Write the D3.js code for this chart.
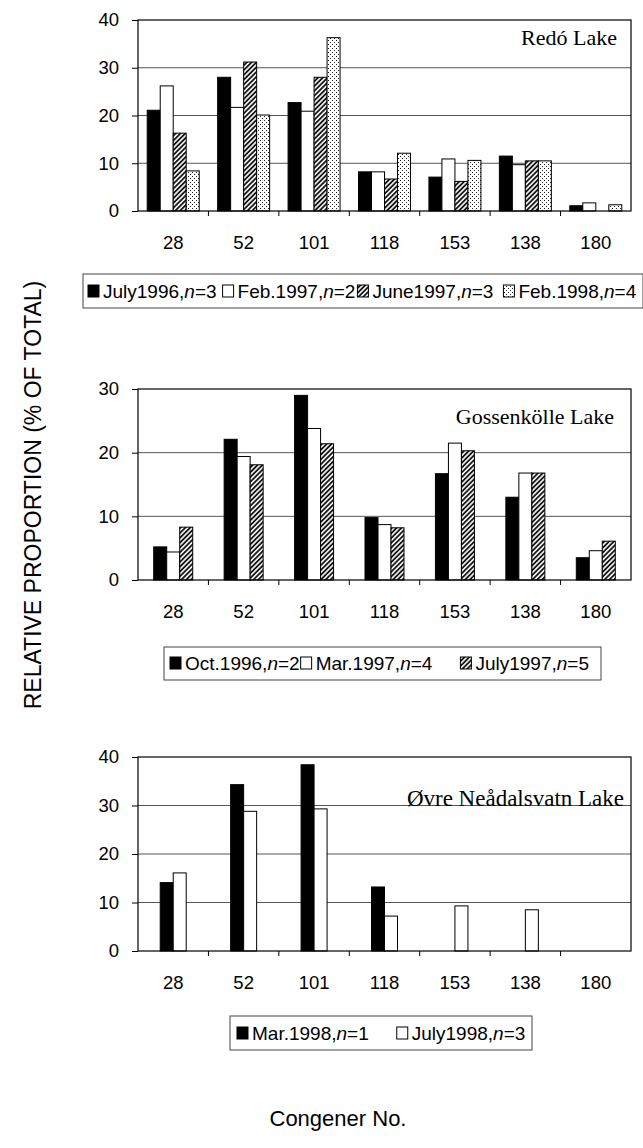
<!DOCTYPE html>
<html>
<head>
<meta charset="utf-8">
<script src="https://cdn.jsdelivr.net/npm/d3@7"></script>
<style>
  body { margin: 0; background: #fff; }
  svg { display: block; }
  .tick text { font-family: "Liberation Sans", Arial, sans-serif; font-size: 18.5px; fill: #000; }
</style>
</head>
<body>
<svg id="chart" width="643" height="1148"></svg>
<script>
// congener numbers, in the order they appear on the x axis
var categories = ['28', '52', '101', '118', '153', '138', '180'];

// Redó Lake
var redoLabels = ['July1996,n=3', 'Feb.1997,n=2', 'June1997,n=3', 'Feb.1998,n=4'];
var redoJuly1996 = [21.1, 28.0, 22.7, 8.2, 7.1, 11.5, 1.1];
var redoFeb1997  = [26.2, 21.7, 20.9, 8.2, 10.9, 9.7, 1.7];
var redoJune1997 = [16.3, 31.2, 28.0, 6.7, 6.2, 10.5, 0];
var redoFeb1998  = [8.4, 20.1, 36.3, 12.1, 10.6, 10.5, 1.3];

// Gossenkölle Lake
var gossLabels = ['Oct.1996,n=2', 'Mar.1997,n=4', 'July1997,n=5'];
var gossOct1996  = [5.2, 22.1, 29.0, 9.8, 16.7, 13.0, 3.5];
var gossMar1997  = [4.4, 19.4, 23.8, 8.7, 21.5, 16.8, 4.6];
var gossJuly1997 = [8.3, 18.1, 21.4, 8.2, 20.3, 16.8, 6.1];

// Øvre Neådalsvatn Lake
var ovreLabels = ['Mar.1998,n=1', 'July1998,n=3'];
var ovreMar1998  = [14.1, 34.3, 38.4, 13.2, 0, 0, 0];
var ovreJuly1998 = [16.1, 28.8, 29.3, 7.2, 9.3, 8.5, 0];

var yTicks40 = [0, 10, 20, 30, 40];
var yTicks30 = [0, 10, 20, 30];

var svg = d3.select('#chart');
var defs = svg.append('defs');

var hatch = defs.append('pattern').attr('id', 'hatch').attr('patternUnits', 'userSpaceOnUse')
  .attr('width', 3.4).attr('height', 3.4).attr('patternTransform', 'rotate(45)');
hatch.append('rect').attr('width', 3.4).attr('height', 3.4).attr('fill', '#fff');
hatch.append('line').attr('x1', 1).attr('y1', 0).attr('x2', 1).attr('y2', 3.4)
  .attr('stroke', '#000').attr('stroke-width', 1.7);

var dots = defs.append('pattern').attr('id', 'dots').attr('patternUnits', 'userSpaceOnUse')
  .attr('width', 4).attr('height', 4);
dots.append('rect').attr('width', 4).attr('height', 4).attr('fill', '#fff');
dots.append('rect').attr('x', 0).attr('y', 0).attr('width', 1).attr('height', 1).attr('fill', '#222');
dots.append('rect').attr('x', 2).attr('y', 2).attr('width', 1).attr('height', 1).attr('fill', '#222');

var FILLS = ['#000', '#fff', 'url(#hatch)', 'url(#dots)'];
var plotLeft = 138, plotRight = 631, barW = 13;

var panels = [
  { top: 20, bottom: 211, ticks: yTicks40, series: [redoJuly1996, redoFeb1997, redoJune1997, redoFeb1998],
    title: 'Redó Lake', titleX: 617, titleY: 45, titleSize: 22,
    legend: { labels: redoLabels, box: [83, 274, 643, 308], x: 88, y: 298, gaps: [6, 2, 10] } },
  { top: 389, bottom: 580, ticks: yTicks30, series: [gossOct1996, gossMar1997, gossJuly1997],
    title: 'Gossenkölle Lake', titleX: 614, titleY: 424, titleSize: 22,
    legend: { labels: gossLabels, box: [164, 647, 601, 680], x: 170, y: 670, gaps: [1, 28] } },
  { top: 757, bottom: 951, ticks: yTicks40, series: [ovreMar1998, ovreJuly1998],
    title: 'Øvre Neådalsvatn Lake', titleX: 624, titleY: 806, titleSize: 23,
    legend: { labels: ovreLabels, box: [230, 1016, 532, 1050], x: 237, y: 1040, gaps: [28] } }
];

function drawPanel(p) {
  var g = svg.append('g');
  var x0 = d3.scaleBand().domain(categories).range([plotLeft, plotRight]);
  var keys = d3.range(p.series.length);
  var groupW = keys.length * barW;
  var x1 = d3.scaleBand().domain(keys).range([0, groupW]);
  var y = d3.scaleLinear().domain([0, d3.max(p.ticks)]).range([p.bottom, p.top]);

  // grid
  g.append('g').selectAll('line').data(p.ticks.slice(1, -1)).enter().append('line')
    .attr('x1', plotLeft).attr('x2', plotRight)
    .attr('y1', function(d) { return y(d); }).attr('y2', function(d) { return y(d); })
    .attr('stroke', '#555').attr('stroke-width', 1);

  // bars
  categories.forEach(function(c, ci) {
    var gx = x0(c) + (x0.bandwidth() - groupW) / 2;
    keys.forEach(function(k) {
      var v = p.series[k][ci];
      if (!v) return;
      g.append('rect').attr('x', gx + x1(k)).attr('y', y(v))
        .attr('width', x1.bandwidth()).attr('height', y(0) - y(v))
        .attr('fill', FILLS[k]).attr('stroke', '#000').attr('stroke-width', 1);
    });
  });

  // frame
  g.append('rect').attr('x', plotLeft).attr('y', p.top)
    .attr('width', plotRight - plotLeft).attr('height', p.bottom - p.top)
    .attr('fill', 'none').attr('stroke', '#000').attr('stroke-width', 1.2);

  // y axis
  var ya = g.append('g').attr('transform', 'translate(' + plotLeft + ',0)')
    .call(d3.axisLeft(y).tickValues(p.ticks).tickSize(6).tickPadding(13).tickFormat(d3.format('d')));
  ya.select('.domain').remove();
  ya.selectAll('.tick line').attr('stroke', '#000');

  // x axis
  var xa = g.append('g').attr('transform', 'translate(0,' + p.bottom + ')')
    .call(d3.axisBottom(x0).tickSize(0).tickPadding(25));
  xa.select('.domain').remove();

  // boundary ticks
  g.append('g').selectAll('line').data(categories.slice(1)).enter().append('line')
    .attr('x1', function(d) { return x0(d); }).attr('x2', function(d) { return x0(d); })
    .attr('y1', p.bottom).attr('y2', p.bottom + 5)
    .attr('stroke', '#000').attr('stroke-width', 1);

  // title
  g.append('text').attr('x', p.titleX).attr('y', p.titleY).attr('text-anchor', 'end')
    .attr('font-family', '"Liberation Serif", "Times New Roman", serif').attr('font-size', p.titleSize + 'px')
    .text(p.title);

  // legend
  var L = p.legend;
  g.append('rect').attr('x', L.box[0]).attr('y', L.box[1])
    .attr('width', L.box[2] - L.box[0]).attr('height', L.box[3] - L.box[1])
    .attr('fill', '#fff').attr('stroke', '#444').attr('stroke-width', 1);
  var cx = L.x;
  L.labels.forEach(function(lab, i) {
    g.append('rect').attr('x', cx).attr('y', L.y - 13).attr('width', 11).attr('height', 12)
      .attr('fill', FILLS[i]).attr('stroke', '#000').attr('stroke-width', 1);
    var parts = lab.split(',n');
    var t = g.append('text').attr('x', cx + 15).attr('y', L.y)
      .attr('font-family', '"Liberation Sans", Arial, sans-serif').attr('font-size', '19px');
    t.append('tspan').text(parts[0] + ',');
    t.append('tspan').attr('font-style', 'italic').text('n');
    t.append('tspan').text(parts[1]);
    cx += 15 + t.node().getComputedTextLength() + (L.gaps[i] || 0);
  });
}

panels.forEach(drawPanel);

svg.append('text').attr('transform', 'translate(41,495) rotate(-90)').attr('text-anchor', 'middle')
  .attr('font-family', '"Liberation Sans", Arial, sans-serif').attr('font-size', '23px')
  .text('RELATIVE PROPORTION (% OF TOTAL)');

svg.append('text').attr('x', 338).attr('y', 1126).attr('text-anchor', 'middle')
  .attr('font-family', '"Liberation Sans", Arial, sans-serif').attr('font-size', '22px')
  .text('Congener No.');
</script>
</body>
</html>
